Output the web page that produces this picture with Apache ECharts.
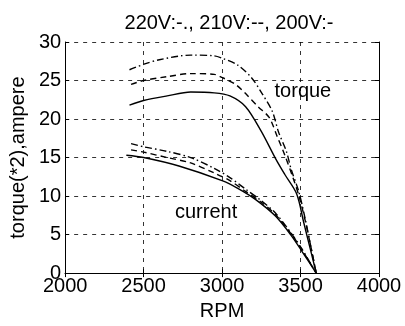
<!DOCTYPE html>
<html>
<head>
<meta charset="utf-8">
<script src="https://cdn.jsdelivr.net/npm/echarts@6/dist/echarts.min.js"></script>
<style>
  html, body { margin: 0; padding: 0; background: #fff; }
  #chart { width: 405px; height: 326px; }
</style>
</head>
<body>
<div id="chart"></div>
<script>
// torque (x2) curves, [rpm, value]
const torque220 = [[2410,26.4],[2500,27.1],[2600,27.7],[2800,28.3],[2950,28.2],[3000,27.9],[3100,27.0],[3190,25.3],[3255,23.3],[3320,21.0],[3360,18.3],[3410,15.8],[3440,13.5],[3490,10.5],[3530,7.0],[3565,3.5],[3600,0]];
const torque210 = [[2420,24.5],[2500,25.0],[2650,25.5],[2800,25.9],[2950,25.8],[3000,25.4],[3085,24.5],[3150,23.3],[3230,21.6],[3300,20.2],[3350,17.8],[3400,15.3],[3450,12.5],[3490,10.0],[3530,6.8],[3565,3.5],[3600,0]];
const torque200 = [[2410,21.8],[2500,22.4],[2650,23.0],[2800,23.5],[2950,23.4],[3050,23.0],[3150,21.6],[3250,18.4],[3340,14.9],[3400,12.8],[3475,10.3],[3520,6.6],[3560,3.3],[3600,0]];

// current curves
const current220 = [[2420,16.8],[2500,16.4],[2650,15.8],[2800,15.0],[2950,13.6],[3050,12.4],[3150,10.9],[3250,9.4],[3340,7.8],[3440,5.2],[3510,3.1],[3600,0]];
const current210 = [[2420,16.0],[2500,15.7],[2650,15.0],[2800,14.3],[2950,13.0],[3050,12.0],[3150,10.6],[3250,9.2],[3340,7.6],[3440,5.1],[3510,3.0],[3600,0]];
const current200 = [[2390,15.3],[2500,15.0],[2725,13.9],[3000,12.0],[3100,11.0],[3210,9.6],[3340,7.4],[3440,4.9],[3510,2.8],[3600,0]];

// text annotations
const notes = [
  { name: 'torque', value: [3515, 23.6] },
  { name: 'current', value: [2898, 7.9] }
];

const font = 'Liberation Sans, Arial, sans-serif';
const chart = echarts.init(document.getElementById('chart'));

// line style helper
function curve(name, data, dash) {
  return {
    name: name,
    type: 'line',
    xAxisIndex: 0,
    yAxisIndex: 0,
    data: data,
    smooth: 0.3,
    showSymbol: false,
    silent: true,
    lineStyle: { color: '#000', width: 1.4, type: dash }
  };
}

const dashDot = [7, 3, 1.5, 3];
const dashed = [6, 4];

chart.setOption({
  backgroundColor: '#fff',
  animation: false,
  title: {
    text: '220V:-., 210V:--, 200V:-',
    left: 224,
    textAlign: 'center',
    top: 8,
    textStyle: { fontFamily: font, fontSize: 20, fontWeight: 'normal', color: '#000' }
  },
  grid: { left: 62, right: 26, top: 42, bottom: 43 },
  xAxis: [
    {
      type: 'value',
      min: 2000, max: 4000, interval: 500,
      name: 'RPM',
      nameLocation: 'middle',
      nameGap: 26,
      nameTextStyle: { fontFamily: font, fontSize: 20, color: '#000' },
      axisLine: { lineStyle: { color: '#000', width: 1 } },
      axisTick: { inside: true, length: 4, lineStyle: { color: '#000' } },
      axisLabel: { fontFamily: font, fontSize: 20, color: '#000', margin: 3, formatter: v => String(v) },
      splitLine: { show: true, lineStyle: { color: '#000', width: 0.8, type: [4, 5] } }
    },
    {
      type: 'value', position: 'top',
      min: 2000, max: 4000, interval: 500,
      axisLine: { show: true, lineStyle: { color: '#000', width: 1 } },
      axisTick: { inside: true, length: 4, lineStyle: { color: '#000' } },
      axisLabel: { show: false },
      splitLine: { show: false }
    }
  ],
  yAxis: [
    {
      type: 'value',
      min: 0, max: 30, interval: 5,
      name: 'torque(*2),ampere',
      nameLocation: 'middle',
      nameGap: 28,
      nameTextStyle: { fontFamily: font, fontSize: 20, color: '#000' },
      axisLine: { show: true, lineStyle: { color: '#000', width: 1 } },
      axisTick: { show: true, inside: true, length: 4, lineStyle: { color: '#000' } },
      axisLabel: { fontFamily: font, fontSize: 20, color: '#000', margin: 4 },
      splitLine: { show: true, lineStyle: { color: '#000', width: 0.8, type: [4, 5] } }
    },
    {
      type: 'value', position: 'right',
      min: 0, max: 30, interval: 5,
      axisLine: { show: true, lineStyle: { color: '#000', width: 1 } },
      axisTick: { show: true, inside: true, length: 4, lineStyle: { color: '#000' } },
      axisLabel: { show: false },
      splitLine: { show: false }
    }
  ],
  series: [
    curve('torque 220V', torque220, dashDot),
    curve('torque 210V', torque210, dashed),
    curve('torque 200V', torque200, 'solid'),
    curve('current 220V', current220, dashDot),
    curve('current 210V', current210, dashed),
    curve('current 200V', current200, 'solid'),
    {
      type: 'scatter',
      data: notes,
      symbolSize: 0,
      silent: true,
      itemStyle: { opacity: 1 },
      label: {
        show: true,
        position: 'inside',
        formatter: '{b}',
        fontFamily: font,
        fontSize: 20,
        color: '#000',
        opacity: 1,
        textBorderWidth: 0
      }
    }
  ]
});
</script>
</body>
</html>
